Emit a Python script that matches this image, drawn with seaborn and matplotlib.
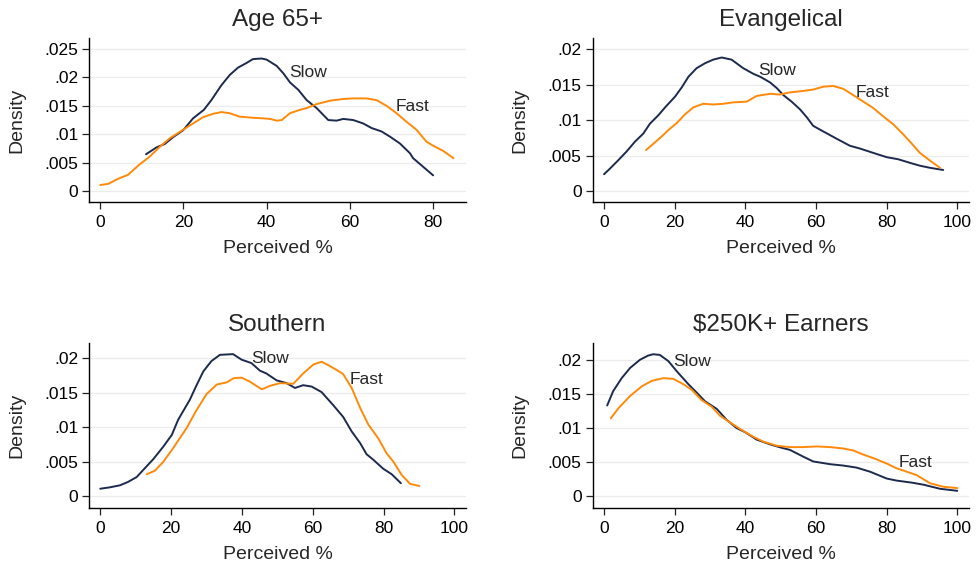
import numpy as np
import pandas as pd
import matplotlib
matplotlib.use("Agg")
import matplotlib.pyplot as plt
import seaborn as sns

# ---- valores (densidades kernel, Slow vs Fast) ----
titles = ["Age 65+", "Evangelical", "Southern", "\\$250K+ Earners"]

age_slow_x = [11.0, 13.5, 15.5, 17.5, 19.9, 22.3, 24.9, 26.7, 29.1, 31.1, 33.1, 35.1, 36.7, 38.8,
              40.0, 42.4, 44.0, 45.6, 47.6, 49.6, 52.0, 54.8, 56.8, 58.4, 60.8, 63.2, 65.2, 67.6,
              69.6, 72.0, 74.4, 75.2, 77.6, 80.0]
age_slow_y = [.0065, .0077, .0083, .0095, .0107, .0128, .0143, .0160, .0186, .0204, .0217, .0225, .0232, .0233,
              .0231, .0220, .0207, .0191, .0178, .0160, .0146, .0125, .0124, .0127, .0125, .0119, .0111, .0105,
              .0096, .0084, .0067, .0058, .0043, .0028]
age_fast_x = [0.0, 1.9, 4.3, 6.7, 9.1, 11.9, 14.3, 16.7, 19.9, 22.3, 24.7, 27.1, 29.1, 31.1, 33.5, 36.7,
              39.2, 40.8, 42.4, 43.6, 45.6, 48.0, 49.6, 52.0, 55.2, 58.4, 60.8, 64.0, 66.4, 68.8, 71.2,
              73.6, 76.0, 78.4, 80.0, 82.4, 84.9]
age_fast_y = [.0011, .0013, .0022, .0029, .0045, .0061, .0078, .0093, .0108, .0119, .0130, .0136, .0139, .0137, .0131, .0129,
              .0128, .0127, .0124, .0125, .0137, .0143, .0146, .0153, .0159, .0162, .0163, .0163, .0160, .0150, .0137,
              .0122, .0108, .0087, .0080, .0071, .0058]

evan_slow_x = [0.0, 1.7, 4.1, 6.4, 8.8, 11.1, 13.0, 15.4, 17.3, 20.1, 22.0, 23.9, 26.2, 28.6, 30.9, 33.3,
               36.1, 39.4, 42.3, 44.2, 47.0, 48.9, 50.8, 53.1, 55.5, 57.4, 59.2, 62.1, 65.8, 69.6, 72.5,
               76.2, 80.0, 83.3, 86.6, 89.4, 92.3, 96.0]
evan_slow_y = [.0024, .0032, .0044, .0056, .0070, .0081, .0095, .0107, .0118, .0133, .0146, .0161, .0173, .0180, .0185, .0188,
               .0185, .0173, .0165, .0161, .0153, .0145, .0135, .0126, .0115, .0104, .0092, .0084, .0074, .0064, .0060,
               .0054, .0048, .0045, .0040, .0036, .0033, .0030]
evan_fast_x = [11.9, 14.0, 16.3, 18.2, 20.6, 22.9, 25.3, 28.1, 30.9, 33.8, 36.6, 40.4, 43.2, 47.0, 49.8, 52.6,
               56.4, 59.2, 62.1, 64.9, 67.7, 70.6, 73.4, 76.2, 79.1, 81.9, 84.7, 87.1, 89.4, 92.3, 95.1]
evan_fast_y = [.0058, .0067, .0077, .0086, .0096, .0108, .0118, .0123, .0122, .0123, .0125, .0126, .0134, .0137, .0136, .0139,
               .0141, .0143, .0147, .0148, .0144, .0135, .0126, .0117, .0105, .0094, .0080, .0067, .0054, .0043, .0033]

south_slow_x = [0.0, 2.7, 5.6, 7.9, 10.3, 12.1, 15.0, 17.8, 20.2, 22.0, 25.3, 27.2, 29.1, 31.4, 33.8, 37.5,
                39.9, 42.7, 45.1, 46.9, 49.8, 52.6, 55.0, 57.3, 59.7, 62.5, 65.8, 68.6, 71.0, 73.4, 75.2,
                77.1, 79.9, 82.3, 84.9]
south_slow_y = [.0011, .0013, .0016, .0021, .0028, .0038, .0054, .0072, .0089, .0111, .0140, .0161, .0181, .0196, .0205, .0206,
                .0198, .0193, .0182, .0178, .0168, .0164, .0157, .0161, .0159, .0151, .0132, .0115, .0094, .0077, .0061,
                .0053, .0040, .0032, .0019]
south_fast_x = [13.1, 15.4, 17.8, 20.6, 24.4, 27.2, 30.0, 32.9, 35.7, 37.6, 39.9, 42.3, 45.6, 47.9, 50.8, 54.5,
                57.3, 60.2, 62.5, 64.4, 66.8, 68.6, 71.0, 73.4, 75.7, 78.5, 80.9, 82.8, 85.1, 87.5, 90.1]
south_fast_y = [.0032, .0037, .0050, .0070, .0099, .0125, .0148, .0162, .0165, .0171, .0172, .0166, .0155, .0160, .0164, .0163,
                .0178, .0191, .0195, .0190, .0183, .0177, .0157, .0128, .0104, .0084, .0062, .0050, .0031, .0018, .0015]

earn_slow_x = [0.9, 2.6, 5.0, 7.4, 10.2, 12.5, 13.9, 15.8, 18.2, 20.6, 23.9, 26.2, 28.6, 31.9, 34.7, 37.5,
               39.9, 43.2, 47.0, 50.3, 52.6, 56.4, 59.2, 64.0, 67.7, 71.5, 75.3, 80.0, 82.8, 87.1, 90.4,
               95.1, 100.0]
earn_slow_y = [.0133, .0154, .0173, .0188, .0200, .0206, .0208, .0207, .0198, .0183, .0164, .0152, .0139, .0128, .0112, .0100,
               .0094, .0083, .0076, .0071, .0068, .0058, .0051, .0047, .0045, .0042, .0036, .0026, .0023, .0020, .0017,
               .0011, .0008]
earn_fast_x = [1.9, 4.1, 7.4, 10.7, 13.5, 16.8, 19.6, 22.5, 24.8, 27.6, 30.5, 32.8, 35.7, 39.0, 42.3, 45.1,
               48.9, 52.6, 56.4, 60.2, 64.0, 67.7, 70.6, 73.4, 76.2, 80.0, 82.8, 85.7, 88.5, 92.3, 96.0, 100.0]
earn_fast_y = [.0114, .0129, .0147, .0161, .0169, .0173, .0172, .0164, .0156, .0141, .0131, .0118, .0108, .0097, .0087, .0080,
               .0074, .0072, .0072, .0073, .0072, .0070, .0067, .0061, .0056, .0048, .0041, .0036, .0031, .0019, .0014, .0012]

# posiciones de las etiquetas "Slow" / "Fast" (x, y en datos)
slow_labels = [(45.4, .0208), (43.7, .0170), (42.7, .0200), (19.6, .0198)]
fast_labels = [(71.0, .0149), (71.2, .0139), (70.3, .0169), (83.3, .0049)]

yticks_age = [0, .005, .01, .015, .02, .025]
yticks_other = [0, .005, .01, .015, .02]
ytick_text = ["0", ".005", ".01", ".015", ".02", ".025"]
xticks_age = [0, 20, 40, 60, 80]
xticks_other = [0, 20, 40, 60, 80, 100]

# ---- estilo ----
sns.set_style("ticks")
plt.rcParams["font.family"] = ["Liberation Sans", "DejaVu Sans"]

NAVY = "#1c2a4e"
ORANGE = "#ff8a0a"

W, H = 977, 569
def rect(l, t, r, b):
    return [l / W, 1 - b / H, (r - l) / W, (b - t) / H]

layout = [
    dict(box=rect(89.3, 38, 466, 202), xlim=(-2.64, 87.9), ylim=(-0.00188, 0.0269),
         xt=xticks_age, yt=yticks_age),
    dict(box=rect(592.7, 38, 969, 202), xlim=(-3.2, 103.3), ylim=(-0.0015, 0.02154),
         xt=xticks_other, yt=yticks_other),
    dict(box=rect(89.3, 343.3, 465.7, 507.7), xlim=(-3.1, 103.2), ylim=(-0.00165, 0.02217),
         xt=xticks_other, yt=yticks_other),
    dict(box=rect(592.7, 343.3, 969, 507.7), xlim=(-3.2, 103.3), ylim=(-0.00167, 0.0224),
         xt=xticks_other, yt=yticks_other),
]
series = [
    ((age_slow_x, age_slow_y), (age_fast_x, age_fast_y)),
    ((evan_slow_x, evan_slow_y), (evan_fast_x, evan_fast_y)),
    ((south_slow_x, south_slow_y), (south_fast_x, south_fast_y)),
    ((earn_slow_x, earn_slow_y), (earn_fast_x, earn_fast_y)),
]

fig = plt.figure(figsize=(W / 100, H / 100), dpi=100)

for i, lay in enumerate(layout):
    ax = fig.add_axes(lay["box"])
    (sx, sy), (fx, fy) = series[i]
    sns.lineplot(x=sx, y=sy, ax=ax, color=NAVY, linewidth=1.4, errorbar=None)
    sns.lineplot(x=fx, y=fy, ax=ax, color=ORANGE, linewidth=1.4, errorbar=None)

    ax.set_xlim(*lay["xlim"])
    ax.set_ylim(*lay["ylim"])
    ax.set_xticks(lay["xt"])
    ax.set_xticklabels([str(t) for t in lay["xt"]])
    ax.set_yticks(lay["yt"])
    ax.set_yticklabels(ytick_text[:len(lay["yt"])])
    ax.yaxis.grid(True, color="#ececec", linewidth=1.0)
    ax.set_axisbelow(True)
    sns.despine(ax=ax)
    for sp in ["left", "bottom"]:
        ax.spines[sp].set_linewidth(1.0)
        ax.spines[sp].set_color("black")
    ax.tick_params(axis="both", direction="out", length=4.75, width=0.9, color="#222222",
                   labelsize=12.5, labelcolor="black")
    ax.tick_params(axis="x", pad=4.5)
    ax.tick_params(axis="y", pad=3.2)

    ax.set_title(titles[i], fontsize=17.5, pad=8.6)
    ax.set_ylabel("Density", fontsize=14)
    ax.set_xlabel("Perceived %", fontsize=14)
    ax.yaxis.set_label_coords(-0.171, 0.5)
    ax.xaxis.set_label_coords(0.5, -0.232)

    ax.text(*slow_labels[i], "Slow", fontsize=12.5, ha="left", va="center")
    ax.text(*fast_labels[i], "Fast", fontsize=12.5, ha="left", va="center")

fig.savefig("out.png", dpi=100, facecolor="white")
